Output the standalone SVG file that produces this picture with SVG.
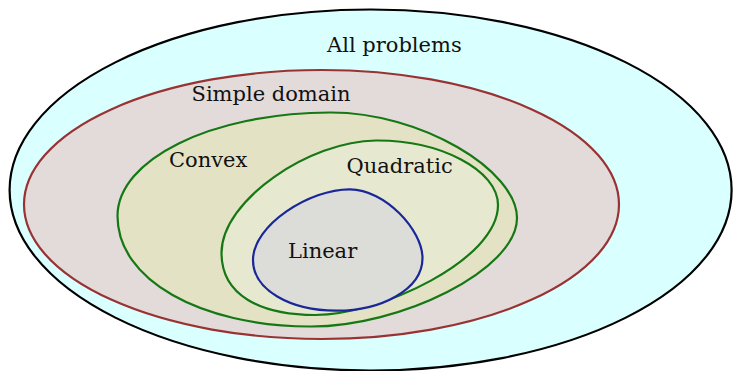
<svg xmlns="http://www.w3.org/2000/svg" width="733" height="371" viewBox="0 0 733 371">
<style>
  .lbl { font-family: "DejaVu Serif", "Liberation Serif", serif; font-size: 21px; fill: #111; }
  .set { stroke-width: 2.2; }
</style>
<rect width="733" height="371" fill="#ffffff"/>
<g id="all-problems">
  <ellipse class="set" cx="370.6" cy="190" rx="361" ry="180.5" fill="#d9ffff" stroke="#000000"/>
  <text class="lbl" x="327" y="52">All problems</text>
</g>
<g id="simple-domain">
  <ellipse class="set" cx="321.5" cy="204.5" rx="297.5" ry="134.5" fill="#e3dada" stroke="#993333"/>
  <text class="lbl" x="191.5" y="101">Simple domain</text>
</g>
<g id="convex">
  <path class="set" d="M 117.5,216 C 117.5,160 210,113 330,112.5 C 420,112 517,170 517,218 C 517,270 400,327 310,326.5 C 200,326 117.5,280 117.5,216 Z" fill="#e3e2c4" stroke="#157815"/>
  <text class="lbl" x="169" y="167">Convex</text>
</g>
<g id="quadratic">
  <path class="set" d="M 221.5,253 C 221.5,200 310,141 376,140.5 C 440,140 498,170 498,205 C 498,260 380,315 315,315 C 260,315 221.5,295 221.5,253 Z" fill="#e6e9cf" stroke="#157815"/>
  <text class="lbl" x="346.5" y="173">Quadratic</text>
</g>
<g id="linear">
  <path class="set" d="M 253,260 C 253,225 310,189 350,189.3 C 385,189.5 422.5,230 422.5,258 C 422.5,290 380,311 336,310.7 C 290,310.5 253,290 253,260 Z" fill="#dcdcd9" stroke="#1a2799"/>
  <text class="lbl" x="288" y="258">Linear</text>
</g>
<g id="connectors"></g>
</svg>
